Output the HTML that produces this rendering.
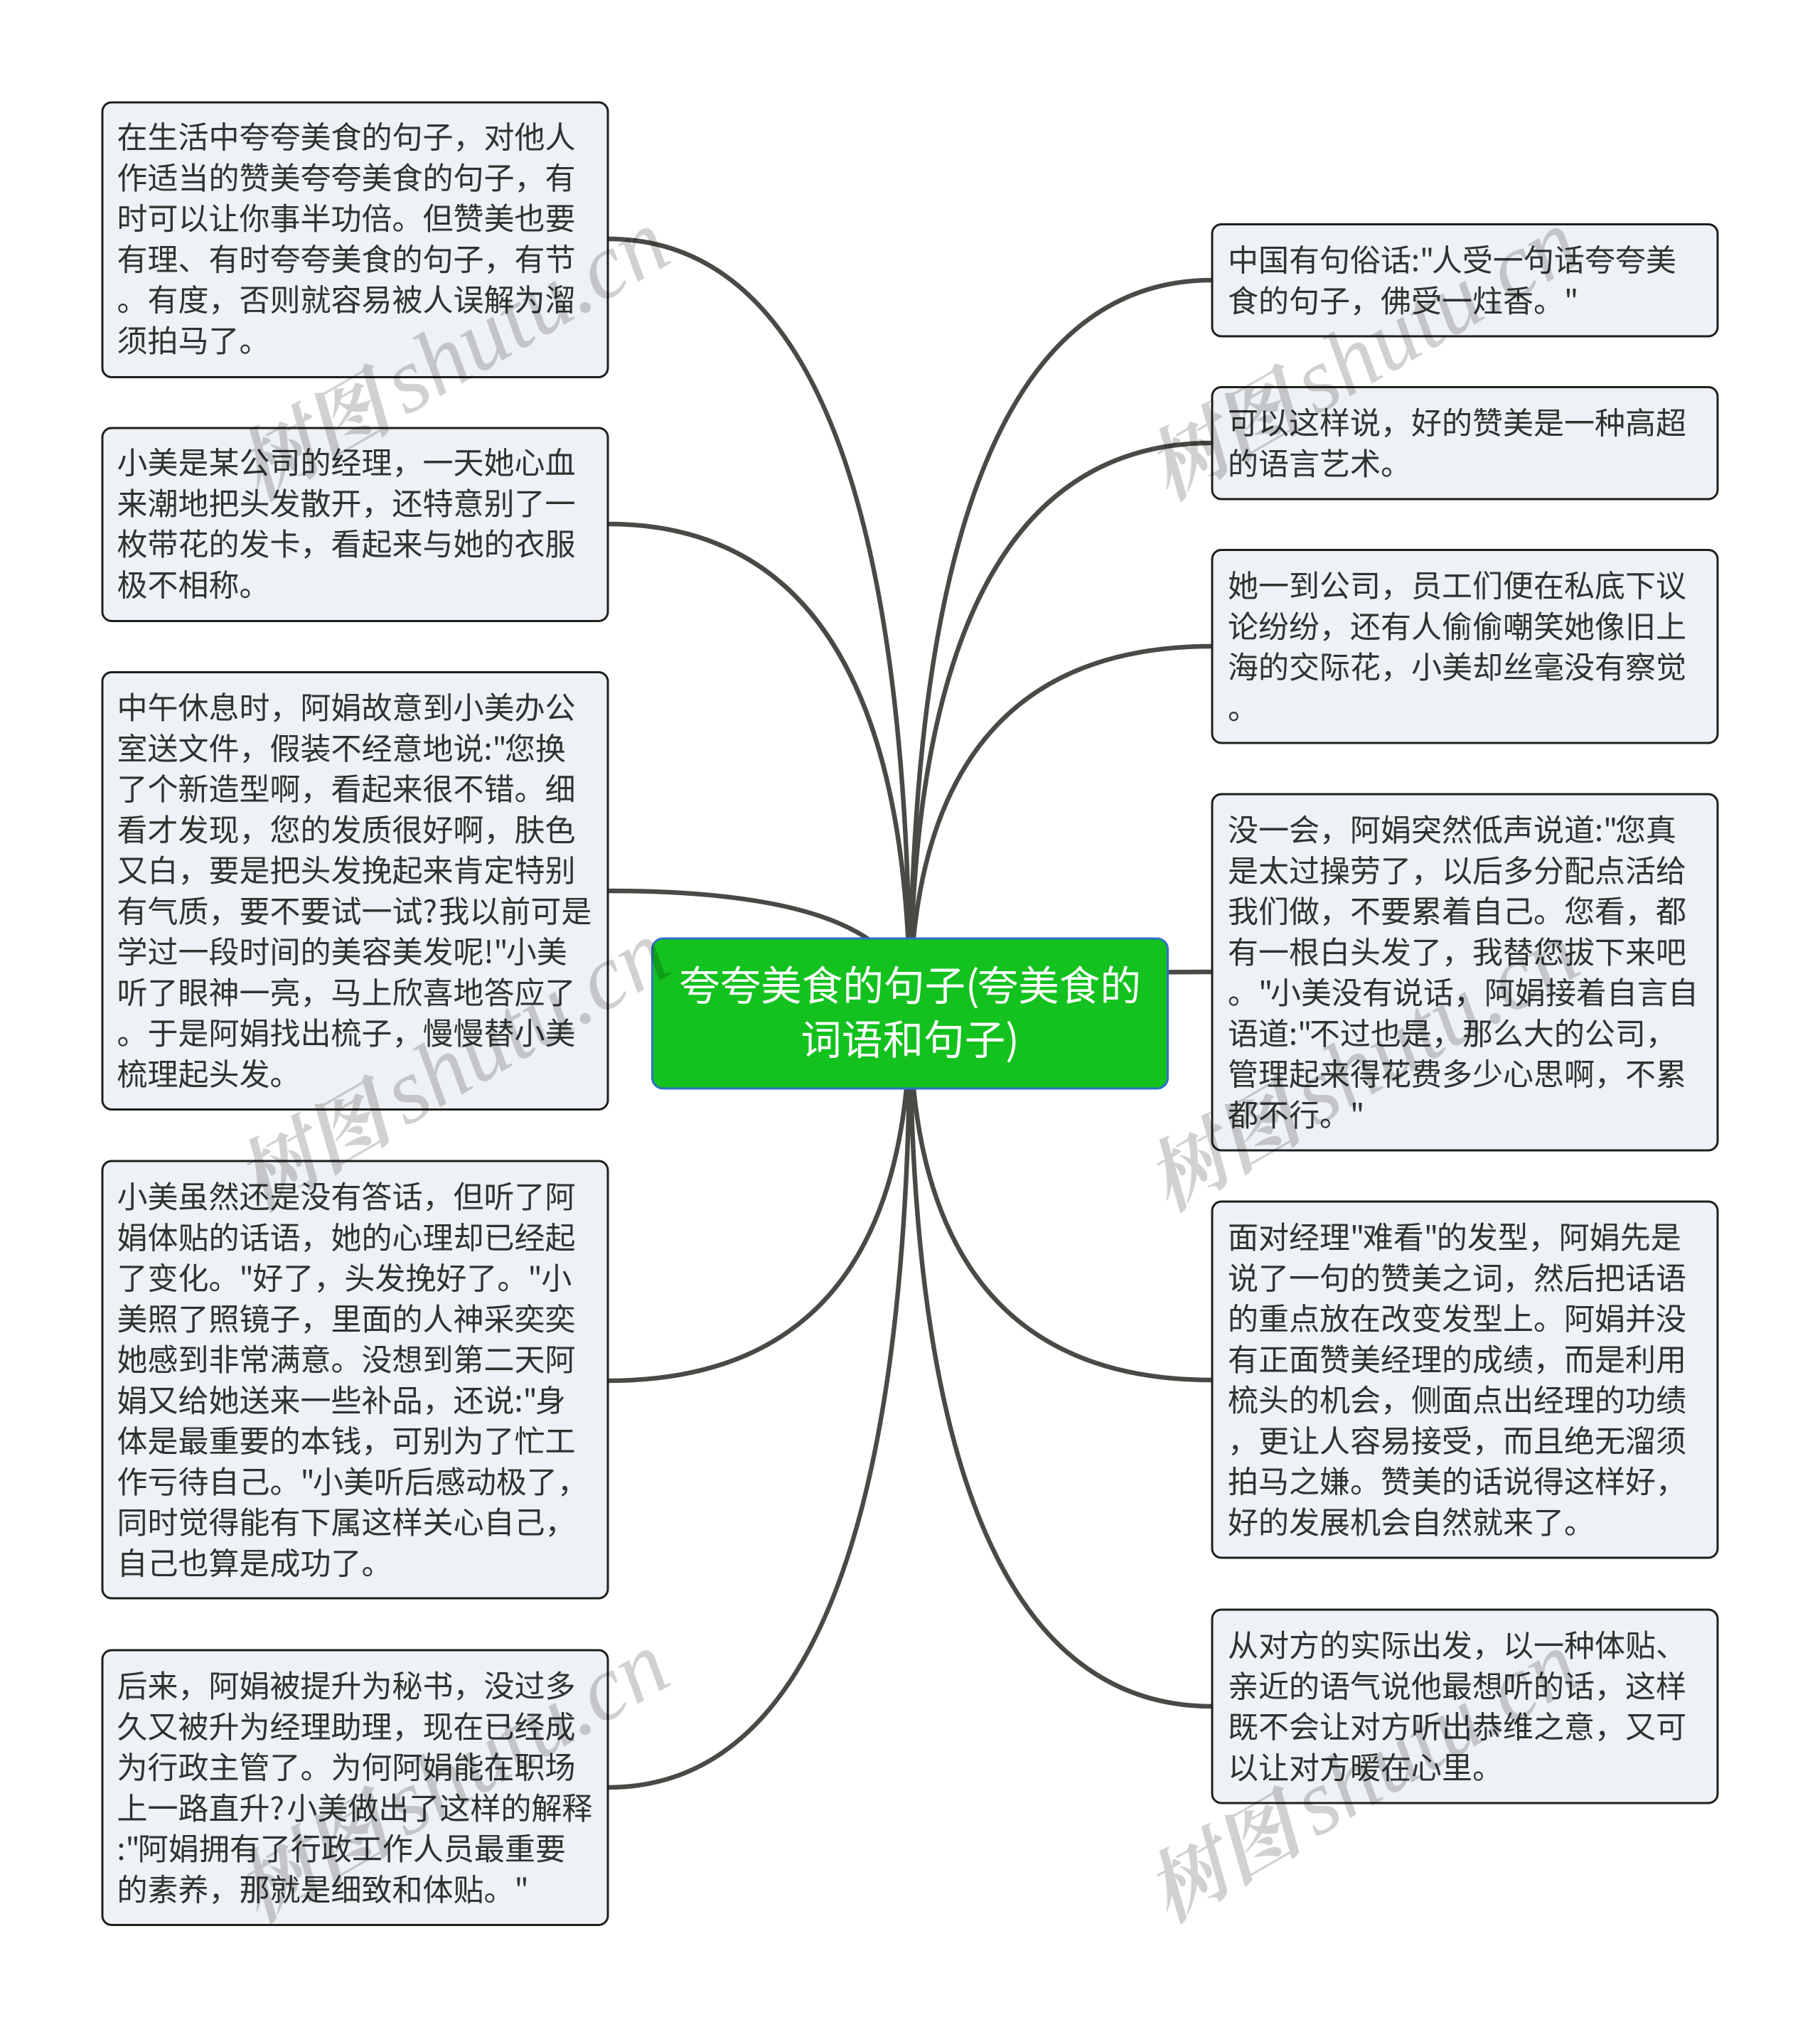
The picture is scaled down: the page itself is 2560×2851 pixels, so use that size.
<!DOCTYPE html>
<html><head><meta charset="utf-8"><style>
html,body{margin:0;padding:0;background:#fff;width:2560px;height:2851px;overflow:hidden}
svg{display:block}
.t{font-family:"Noto Sans CJK SC","Liberation Sans",sans-serif;font-size:43px;fill:#2f3330}
.c{font-family:"Noto Sans CJK SC","Liberation Sans",sans-serif;font-size:57.6px;fill:#fff;text-anchor:middle}
.b{fill:#eef1f5;stroke:#1d1f1d;stroke-width:3}
.l{fill:none;stroke:#484b45;stroke-width:6.5}
.w{font-family:"Liberation Serif","Noto Serif CJK SC",serif;font-style:italic;font-size:130px;fill:#000;fill-opacity:.18}
.w .h{font-size:111px;font-weight:bold}
</style></head><body>
<svg xmlns="http://www.w3.org/2000/svg" width="2560" height="2851" viewBox="0 0 2560 2851">
<path class="l" d="M1280 1425Q1280 336 855 336"/>
<path class="l" d="M1280 1425Q1280 737 855 737"/>
<path class="l" d="M1280 1425Q1280 1253 855 1253"/>
<path class="l" d="M1280 1425Q1280 1942 855 1942"/>
<path class="l" d="M1280 1425Q1280 2514 855 2514"/>
<path class="l" d="M1280 1425Q1280 394 1705 394"/>
<path class="l" d="M1280 1425Q1280 623 1705 623"/>
<path class="l" d="M1280 1425Q1280 909 1705 909"/>
<path class="l" d="M1280 1425Q1280 1367 1705 1367"/>
<path class="l" d="M1280 1425Q1280 1941 1705 1941"/>
<path class="l" d="M1280 1425Q1280 2400 1705 2400"/>
<rect class="b" x="144" y="144" width="711" height="386.5" rx="13"/>
<rect class="b" x="144" y="602" width="711" height="271.5" rx="13"/>
<rect class="b" x="144" y="945.5" width="711" height="615" rx="13"/>
<rect class="b" x="144" y="1633" width="711" height="615" rx="13"/>
<rect class="b" x="144" y="2321" width="711" height="386.5" rx="13"/>
<rect class="b" x="1705" y="315.5" width="711" height="157.5" rx="13"/>
<rect class="b" x="1705" y="544.5" width="711" height="157.5" rx="13"/>
<rect class="b" x="1705" y="773.5" width="711" height="271.5" rx="13"/>
<rect class="b" x="1705" y="1117" width="711" height="501" rx="13"/>
<rect class="b" x="1705" y="1690" width="711" height="501" rx="13"/>
<rect class="b" x="1705" y="2264" width="711" height="272" rx="13"/>
<rect x="917.5" y="1320" width="725" height="211" rx="15" fill="#13c11f" stroke="#2f72c4" stroke-width="3"/>
<text class="c" x="1280" y="1407">夸夸美食的句子(<tspan dx="-3">夸美食的</tspan></text>
<text class="c" x="1280" y="1483">词语和句子)</text>
<text class="t" x="164.5" y="208.5">在生活中夸夸美食的句子，对他人</text>
<text class="t" x="164.5" y="265.8">作适当的赞美夸夸美食的句子，有</text>
<text class="t" x="164.5" y="323">时可以让你事半功倍。但赞美也要</text>
<text class="t" x="164.5" y="380.3">有理、有时夸夸美食的句子，有节</text>
<text class="t" x="164.5" y="437.6">。有度，否则就容易被人误解为溜</text>
<text class="t" x="164.5" y="494.9">须拍马了。</text>
<text class="t" x="164.5" y="666.5">小美是某公司的经理，一天她心血</text>
<text class="t" x="164.5" y="723.8">来潮地把头发散开，还特意别了一</text>
<text class="t" x="164.5" y="781">枚带花的发卡，看起来与她的衣服</text>
<text class="t" x="164.5" y="838.3">极不相称。</text>
<text class="t" x="164.5" y="1011">中午休息时，阿娟故意到小美办公</text>
<text class="t" x="164.5" y="1068.3">室送文件，假装不经意地说:"<tspan dx="-3">您换</tspan></text>
<text class="t" x="164.5" y="1125.5">了个新造型啊，看起来很不错。细</text>
<text class="t" x="164.5" y="1182.8">看才发现，您的发质很好啊，肤色</text>
<text class="t" x="164.5" y="1240.1">又白，要是把头发挽起来肯定特别</text>
<text class="t" x="164.5" y="1297.4">有气质，要不要试一试?<tspan dx="2.5">我以前可是</tspan></text>
<text class="t" x="164.5" y="1354.6">学过一段时间的美容美发呢!"<tspan dx="-3">小美</tspan></text>
<text class="t" x="164.5" y="1411.9">听了眼神一亮，马上欣喜地答应了</text>
<text class="t" x="164.5" y="1469.2">。于是阿娟找出梳子，慢慢替小美</text>
<text class="t" x="164.5" y="1526.5">梳理起头发。</text>
<text class="t" x="164.5" y="1699">小美虽然还是没有答话，但听了阿</text>
<text class="t" x="164.5" y="1756.3">娟体贴的话语，她的心理却已经起</text>
<text class="t" x="164.5" y="1813.5">了变化。"<tspan dx="-1.5">好了，头发挽好了。"</tspan><tspan dx="-1.5">小</tspan></text>
<text class="t" x="164.5" y="1870.8">美照了照镜子，里面的人神采奕奕</text>
<text class="t" x="164.5" y="1928.1">她感到非常满意。没想到第二天阿</text>
<text class="t" x="164.5" y="1985.4">娟又给她送来一些补品，还说:"<tspan dx="-3">身</tspan></text>
<text class="t" x="164.5" y="2042.6">体是最重要的本钱，可别为了忙工</text>
<text class="t" x="164.5" y="2099.9">作亏待自己。"<tspan dx="-3">小美听后感动极了，</tspan></text>
<text class="t" x="164.5" y="2157.2">同时觉得能有下属这样关心自己，</text>
<text class="t" x="164.5" y="2214.5">自己也算是成功了。</text>
<text class="t" x="164.5" y="2387">后来，阿娟被提升为秘书，没过多</text>
<text class="t" x="164.5" y="2444.3">久又被升为经理助理，现在已经成</text>
<text class="t" x="164.5" y="2501.5">为行政主管了。为何阿娟能在职场</text>
<text class="t" x="164.5" y="2558.8">上一路直升?<tspan dx="3.5">小美做出了这样的解释</tspan></text>
<text class="t" x="164.5" y="2616.1">:"<tspan dx="-3">阿娟拥有了行政工作人员最重要</tspan></text>
<text class="t" x="164.5" y="2673.4">的素养，那就是细致和体贴。"</text>
<text class="t" x="1727" y="381.5">中国有句俗话:"<tspan dx="-3.5">人受一句话夸夸美</tspan></text>
<text class="t" x="1727" y="438.8">食的句子，佛受一炷香。"</text>
<text class="t" x="1727" y="610.5">可以这样说，好的赞美是一种高超</text>
<text class="t" x="1727" y="667.8">的语言艺术。</text>
<text class="t" x="1727" y="839.5">她一到公司，员工们便在私底下议</text>
<text class="t" x="1727" y="896.8">论纷纷，还有人偷偷嘲笑她像旧上</text>
<text class="t" x="1727" y="954">海的交际花，小美却丝毫没有察觉</text>
<text class="t" x="1727" y="1011.3">。</text>
<text class="t" x="1727" y="1183">没一会，阿娟突然低声说道:"<tspan dx="-3.5">您真</tspan></text>
<text class="t" x="1727" y="1240.3">是太过操劳了，以后多分配点活给</text>
<text class="t" x="1727" y="1297.5">我们做，不要累着自己。您看，都</text>
<text class="t" x="1727" y="1354.8">有一根白头发了，我替您拔下来吧</text>
<text class="t" x="1727" y="1412.1">。"<tspan dx="-3.5">小美没有说话，阿娟接着自言自</tspan></text>
<text class="t" x="1727" y="1469.4">语道:"<tspan dx="-3.5">不过也是，那么大的公司，</tspan></text>
<text class="t" x="1727" y="1526.6">管理起来得花费多少心思啊，不累</text>
<text class="t" x="1727" y="1583.9">都不行。"</text>
<text class="t" x="1727" y="1756">面对经理"<tspan dx="-2.5">难看"</tspan><tspan dx="-2.5">的发型，阿娟先是</tspan></text>
<text class="t" x="1727" y="1813.3">说了一句的赞美之词，然后把话语</text>
<text class="t" x="1727" y="1870.5">的重点放在改变发型上。阿娟并没</text>
<text class="t" x="1727" y="1927.8">有正面赞美经理的成绩，而是利用</text>
<text class="t" x="1727" y="1985.1">梳头的机会，侧面点出经理的功绩</text>
<text class="t" x="1727" y="2042.4">，更让人容易接受，而且绝无溜须</text>
<text class="t" x="1727" y="2099.6">拍马之嫌。赞美的话说得这样好，</text>
<text class="t" x="1727" y="2156.9">好的发展机会自然就来了。</text>
<text class="t" x="1727" y="2330">从对方的实际出发，以一种体贴、</text>
<text class="t" x="1727" y="2387.3">亲近的语气说他最想听的话，这样</text>
<text class="t" x="1727" y="2444.5">既不会让对方听出恭维之意，又可</text>
<text class="t" x="1727" y="2501.8">以让对方暖在心里。</text>
<text class="w" transform="translate(363 705) rotate(-30)"><tspan class="h">树图</tspan><tspan dx="18">shutu.cn</tspan></text>
<text class="w" transform="translate(363 1705) rotate(-30)"><tspan class="h">树图</tspan><tspan dx="18">shutu.cn</tspan></text>
<text class="w" transform="translate(363 2705) rotate(-30)"><tspan class="h">树图</tspan><tspan dx="18">shutu.cn</tspan></text>
<text class="w" transform="translate(1643 705) rotate(-30)"><tspan class="h">树图</tspan><tspan dx="18">shutu.cn</tspan></text>
<text class="w" transform="translate(1643 1705) rotate(-30)"><tspan class="h">树图</tspan><tspan dx="18">shutu.cn</tspan></text>
<text class="w" transform="translate(1643 2705) rotate(-30)"><tspan class="h">树图</tspan><tspan dx="18">shutu.cn</tspan></text>
</svg>
</body></html>
